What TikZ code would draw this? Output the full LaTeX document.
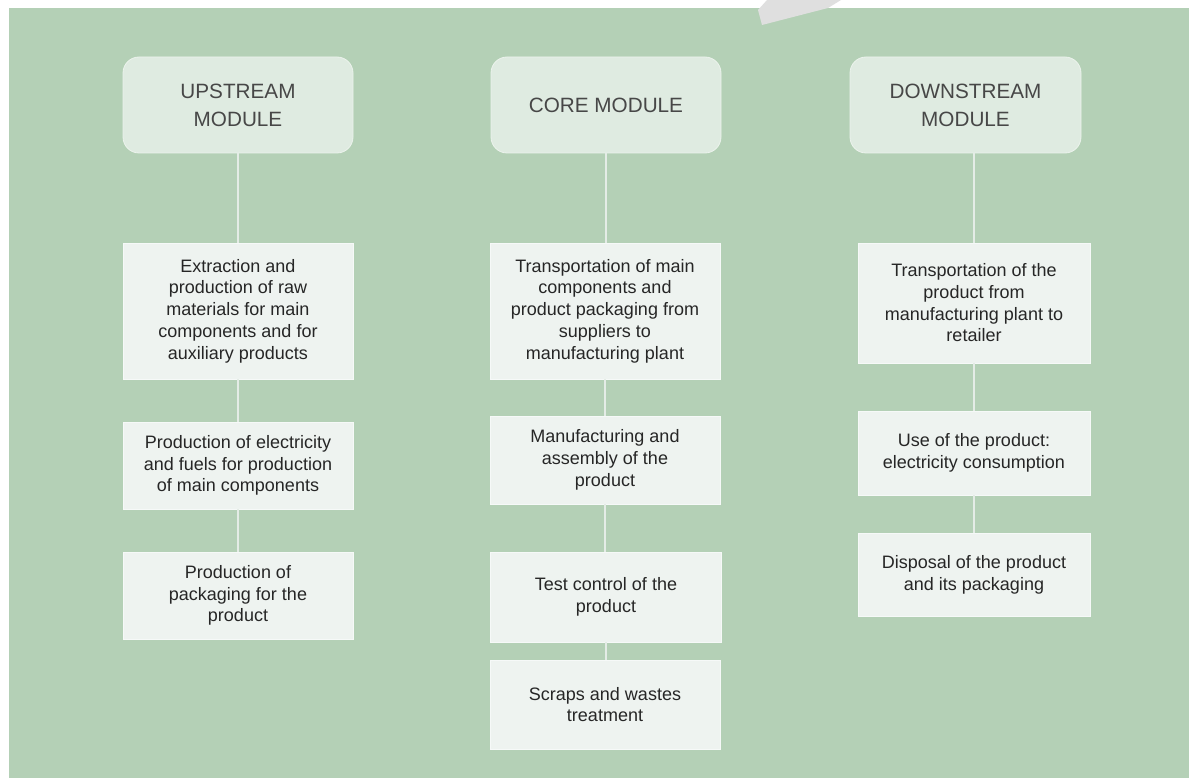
\documentclass[tikz,border=0pt]{standalone}
\usepackage{fontspec}
\setmainfont{Liberation Sans}
\definecolor{bggreen}{HTML}{B4D0B6}
\definecolor{headfill}{HTML}{DFEBE1}
\definecolor{boxfill}{HTML}{EEF3F0}
\definecolor{linecol}{HTML}{E4ECE6}
\definecolor{boxtext}{HTML}{262626}
\definecolor{headtext}{HTML}{474747}
\tikzset{
  header/.style={draw=headfill!60!white, line width=0.8pt, fill=headfill, rounded corners=16pt,
    minimum width=230pt, minimum height=96pt, inner sep=0pt, align=center,
    text=headtext, font=\fontsize{20.7}{28}\selectfont},
  stepbox/.style={draw=boxfill!50!white, line width=0.8pt, fill=boxfill,
    minimum width=230pt, inner sep=0pt, align=center,
    text=boxtext, font=\fontsize{18}{21.7}\selectfont},
  link/.style={draw=linecol, line width=2pt}
}
\begin{document}
\begin{tikzpicture}[x=1pt,y=-1pt]
\useasboundingbox (0,0) rectangle (1189,778);
\fill[white] (0,0) rectangle (1189,778);
\fill[bggreen] (9,8) rectangle (1189,778);
\fill[gray!25] (767,0) -- (841,0) -- (828,8) -- (762,25) -- (758,10) -- cycle;

% headers
\node[header] (Uh) at (238,105) {UPSTREAM\\MODULE};
\node[header] (Ch) at (606,105) {CORE MODULE};
\node[header, minimum width=231pt] (Dh) at (965.5,105) {DOWNSTREAM\\MODULE};

% upstream
\node[stepbox, minimum height=136pt] (U1) at (238,311) {Extraction and\\production of raw\\materials for main\\components and for\\auxiliary products};
\node[stepbox, minimum height=87pt] (U2) at (238,465.5) {Production of electricity\\and fuels for production\\of main components};
\node[stepbox, minimum height=87pt] (U3) at (238,595.5) {Production of\\packaging for the\\product};

% core
\node[stepbox, minimum height=136pt] (C1) at (605,311) {Transportation of main\\components and\\product packaging from\\suppliers to\\manufacturing plant};
\node[stepbox, minimum height=88pt] (C2) at (605,460) {Manufacturing and\\assembly of the\\product};
\node[stepbox, minimum height=90pt, minimum width=231pt] (C3) at (606,597) {Test control of the\\product};
\node[stepbox, minimum height=89pt] (C4) at (605,704.5) {Scraps and wastes\\treatment};

% downstream
\node[stepbox, minimum height=120pt, minimum width=232pt] (D1) at (974,303) {Transportation of the\\product from\\manufacturing plant to\\retailer};
\node[stepbox, minimum height=84pt, minimum width=232pt] (D2) at (974,453) {Use of the product:\\electricity consumption};
\node[stepbox, minimum height=83pt, minimum width=232pt] (D3) at (974,574.5) {Disposal of the product\\and its packaging};

% connectors
\draw[link] (Uh.south) -- (U1.north);
\draw[link] (U1.south) -- (U2.north);
\draw[link] (U2.south) -- (U3.north);
\draw[link] (Ch.south) -- (Ch.south |- C1.north);
\draw[link] (C1.south) -- (C2.north);
\draw[link] (C2.south) -- (C2.south |- C3.north);
\draw[link] (C3.south) -- (C3.south |- C4.north);
\draw[link] (D1.north |- Dh.south) -- (D1.north);
\draw[link] (D1.south) -- (D2.north);
\draw[link] (D2.south) -- (D3.north);
\end{tikzpicture}
\end{document}
